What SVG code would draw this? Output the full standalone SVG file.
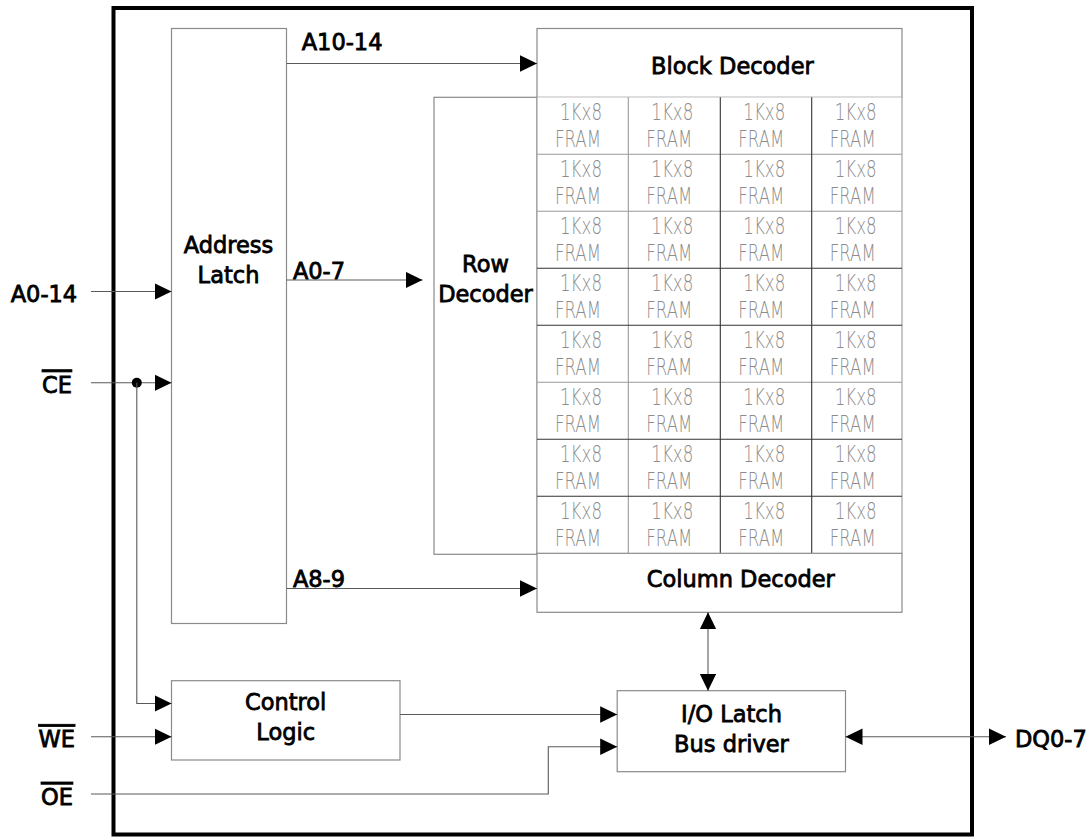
<svg xmlns="http://www.w3.org/2000/svg" width="1089" height="837" viewBox="0 0 1089 837">
<style>
.box{fill:#fff;stroke:#8a8a8a;stroke-width:1.2}
.lbl{font-family:"DejaVu Sans",Verdana,sans-serif;font-size:22.5px;fill:#000;stroke:#000;stroke-width:0.8}
.mid{text-anchor:middle}
.ov{text-decoration:overline}
.cell{font-family:"DejaVu Sans","Liberation Sans",sans-serif;font-weight:200;font-size:22.5px;fill:#8c8c8c}
.con{fill:none;stroke:#5a5a5a;stroke-width:1.1}
.g{stroke:#9a9a9a;stroke-width:1.1}
.d{stroke:#333;stroke-width:1.1}
</style>
<defs>
<marker id="ah" markerUnits="userSpaceOnUse" markerWidth="18" markerHeight="17" refX="17" refY="8.3" orient="auto-start-reverse">
<path d="M0,0 L17,8.3 L0,16.6 z" fill="#000"/>
</marker>
<g id="cellt">
<text class="cell" x="23" y="22.7" textLength="42" lengthAdjust="spacingAndGlyphs">1Kx8</text>
<text class="cell" x="18" y="49.4" textLength="46" lengthAdjust="spacingAndGlyphs">FRAM</text>
</g>
</defs>
<rect id="frame" x="113.5" y="8" width="858.5" height="826.5" fill="none" stroke="#000" stroke-width="4"/>

<g id="address-latch">
<rect class="box" x="171.5" y="28.5" width="115" height="595"/>
<text class="lbl mid" x="228.5" y="252.7">Address</text>
<text class="lbl mid" x="228.5" y="282.7">Latch</text>
</g>

<g id="row-decoder">
<rect class="box" x="434" y="97.3" width="103" height="457"/>
<text class="lbl mid" x="485.5" y="271.7">Row</text>
<text class="lbl mid" x="485.5" y="301.7">Decoder</text>
</g>

<g id="block-decoder">
<rect class="box" x="537" y="28.5" width="365" height="68.8"/>
<text class="lbl mid" x="732.4" y="74">Block Decoder</text>
</g>

<g id="fram-array">
<rect x="537" y="97.3" width="365" height="456" fill="#fff" stroke="none"/>
<g class="g">
<line x1="537" y1="154.3" x2="902" y2="154.3"/>
<line x1="537" y1="211.3" x2="902" y2="211.3"/>
<line x1="537" y1="382.3" x2="902" y2="382.3"/>
<line x1="628.3" y1="97.3" x2="628.3" y2="553.3"/>
<line x1="537" y1="97.3" x2="537" y2="553.3"/>
<line x1="902" y1="97.3" x2="902" y2="553.3"/>
</g>
<g class="d">
<line x1="537" y1="268.3" x2="902" y2="268.3"/>
<line x1="537" y1="325.3" x2="902" y2="325.3"/>
<line x1="537" y1="439.3" x2="902" y2="439.3"/>
<line x1="537" y1="496.3" x2="902" y2="496.3"/>
<line x1="720.3" y1="97.3" x2="720.3" y2="553.3"/>
<line x1="811.7" y1="97.3" x2="811.7" y2="553.3"/>
</g>
<use href="#cellt" x="537" y="97.3"/><use href="#cellt" x="628.3" y="97.3"/><use href="#cellt" x="720.3" y="97.3"/><use href="#cellt" x="811.7" y="97.3"/>
<use href="#cellt" x="537" y="154.3"/><use href="#cellt" x="628.3" y="154.3"/><use href="#cellt" x="720.3" y="154.3"/><use href="#cellt" x="811.7" y="154.3"/>
<use href="#cellt" x="537" y="211.3"/><use href="#cellt" x="628.3" y="211.3"/><use href="#cellt" x="720.3" y="211.3"/><use href="#cellt" x="811.7" y="211.3"/>
<use href="#cellt" x="537" y="268.3"/><use href="#cellt" x="628.3" y="268.3"/><use href="#cellt" x="720.3" y="268.3"/><use href="#cellt" x="811.7" y="268.3"/>
<use href="#cellt" x="537" y="325.3"/><use href="#cellt" x="628.3" y="325.3"/><use href="#cellt" x="720.3" y="325.3"/><use href="#cellt" x="811.7" y="325.3"/>
<use href="#cellt" x="537" y="382.3"/><use href="#cellt" x="628.3" y="382.3"/><use href="#cellt" x="720.3" y="382.3"/><use href="#cellt" x="811.7" y="382.3"/>
<use href="#cellt" x="537" y="439.3"/><use href="#cellt" x="628.3" y="439.3"/><use href="#cellt" x="720.3" y="439.3"/><use href="#cellt" x="811.7" y="439.3"/>
<use href="#cellt" x="537" y="496.3"/><use href="#cellt" x="628.3" y="496.3"/><use href="#cellt" x="720.3" y="496.3"/><use href="#cellt" x="811.7" y="496.3"/>
</g>

<g id="column-decoder">
<rect class="box" x="537" y="553.3" width="365" height="59"/>
<text class="lbl mid" x="740.8" y="586.7">Column Decoder</text>
</g>

<g id="control-logic">
<rect class="box" x="171.5" y="680.7" width="228.5" height="79.3"/>
<text class="lbl mid" x="285.7" y="710">Control</text>
<text class="lbl mid" x="285.7" y="740">Logic</text>
</g>

<g id="io-latch">
<rect class="box" x="617.2" y="690.7" width="228.3" height="81"/>
<text class="lbl mid" x="731.5" y="721.7">I/O Latch</text>
<text class="lbl mid" x="731.5" y="751.7">Bus driver</text>
</g>

<g id="connectors">
<line class="con" x1="286.5" y1="63.5" x2="537" y2="63.5" marker-end="url(#ah)"/>
<line class="con" x1="286.5" y1="280" x2="422.5" y2="280" marker-end="url(#ah)"/>
<line class="con" x1="286.5" y1="588.5" x2="537" y2="588.5" marker-end="url(#ah)"/>
<line class="con" x1="91" y1="291.5" x2="171.5" y2="291.5" marker-end="url(#ah)"/>
<line class="con" x1="91" y1="382.7" x2="171.5" y2="382.7" marker-end="url(#ah)"/>
<circle cx="136.8" cy="382.7" r="5" fill="#000"/>
<polyline class="con" points="136.8,382.7 136.8,703.5 171.5,703.5" marker-end="url(#ah)"/>
<line class="con" x1="91" y1="736.7" x2="171.5" y2="736.7" marker-end="url(#ah)"/>
<polyline class="con" points="91,794 548.3,794 548.3,746.7 617.2,746.7" marker-end="url(#ah)"/>
<line class="con" x1="400" y1="714.5" x2="617.2" y2="714.5" marker-end="url(#ah)"/>
<line class="con" x1="708" y1="612.3" x2="708" y2="690.7" marker-start="url(#ah)" marker-end="url(#ah)"/>
<line class="con" x1="845.5" y1="736.7" x2="1006" y2="736.7" marker-start="url(#ah)" marker-end="url(#ah)"/>
</g>

<g id="labels">
<text class="lbl" x="301.7" y="50">A10-14</text>
<text class="lbl" x="292.9" y="279">A0-7</text>
<text class="lbl" x="292.9" y="586.7">A8-9</text>
<text class="lbl" x="10.7" y="301.7">A0-14</text>
<text class="lbl ov" x="42" y="392.7">CE</text>
<text class="lbl ov" x="38.6" y="747.3">WE</text>
<text class="lbl ov" x="41" y="805">OE</text>
<text class="lbl" x="1015" y="746.7">DQ0-7</text>
</g>
</svg>
